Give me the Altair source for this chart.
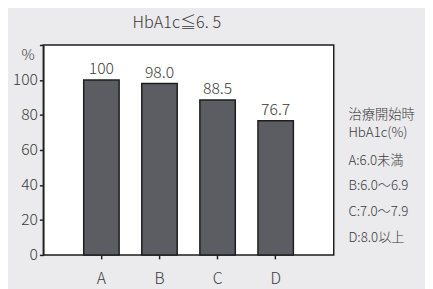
import altair as alt
import pandas as pd

categories = ["A", "B", "C", "D"]
values = [100, 98.0, 88.5, 76.7]
value_labels = ["100", "98.0", "88.5", "76.7"]
y_ticks = [0, 20, 40, 60, 80, 100, 120]
header_lines = ["治療開始時", "HbA1c(%)"]
item_lines = ["A:6.0未満", "B:6.0〜6.9", "C:7.0〜7.9", "D:8.0以上"]
title_text = "HbA1c≦6. 5"

FONT = "Noto Sans CJK JP"
TXT = "#3a3a3a"
W = 300

df = pd.DataFrame({"cat": categories, "val": values, "lab": value_labels})

x = alt.X("cat:N", sort=categories,
          scale=alt.Scale(paddingInner=0.39, paddingOuter=0.695),
          axis=alt.Axis(title=None, labelAngle=0, tickSize=4, labelPadding=12,
                        domain=False, tickColor="#222", tickWidth=1.5))
y = alt.Y("val:Q", scale=alt.Scale(domain=[0, 120], nice=False),
          axis=alt.Axis(values=y_ticks, labelExpr="datum.value == 120 ? '' : datum.label",
                        labelOverlap=False,
                        title="%", titleAngle=0, titleX=-16, titleY=10,
                        titleAlign="center", titleBaseline="middle",
                        titleFont=FONT, titleFontSize=15, titleFontWeight=W,
                        titleColor=TXT, tickSize=4, labelPadding=2, grid=False,
                        domainColor="#222", domainWidth=1.5,
                        tickColor="#222", tickWidth=1.5))

bars = alt.Chart(df).mark_bar(color="#5c5d62", stroke="#1e1e1e", strokeWidth=1.5).encode(x=x, y=y)
labels = alt.Chart(df).mark_text(dy=-3, baseline="bottom", font=FONT, fontSize=16,
                                 fontWeight=W, color=TXT).encode(x=x, y=y, text="lab:N")

header = alt.Chart(pd.DataFrame({"t": ["\n".join(header_lines)]})).mark_text(
    align="left", baseline="middle", font=FONT, fontSize=13.5, fontWeight=W, color=TXT,
    lineBreak="\n", lineHeight=19).encode(
    x=alt.value(311), y=alt.value(71), text="t:N")
items = alt.Chart(pd.DataFrame({"t": ["\n".join(item_lines)]})).mark_text(
    align="left", baseline="middle", font=FONT, fontSize=13.5, fontWeight=W, color=TXT,
    lineBreak="\n", lineHeight=26.3).encode(
    x=alt.value(311), y=alt.value(118), text="t:N")

chart = alt.layer(bars, labels, header, items).properties(
    width=296, height=214,
    autosize=alt.AutoSizeParams(type="none"),
    padding={"left": 36, "top": 35, "right": 93, "bottom": 32},
    background="#ebebed",
    title=alt.TitleParams(title_text, font=FONT, fontSize=16.5, fontWeight=W,
                          color=TXT, anchor="middle", dx=-12, offset=6),
).configure_view(fill="white", stroke="#1e1e1e", strokeWidth=1.5).configure_axis(
    labelFont=FONT, labelFontSize=16, labelFontWeight=W, labelColor=TXT,
    labelOverlap=False)

chart.save("out.html", embed_options={"renderer": "svg", "actions": False})
